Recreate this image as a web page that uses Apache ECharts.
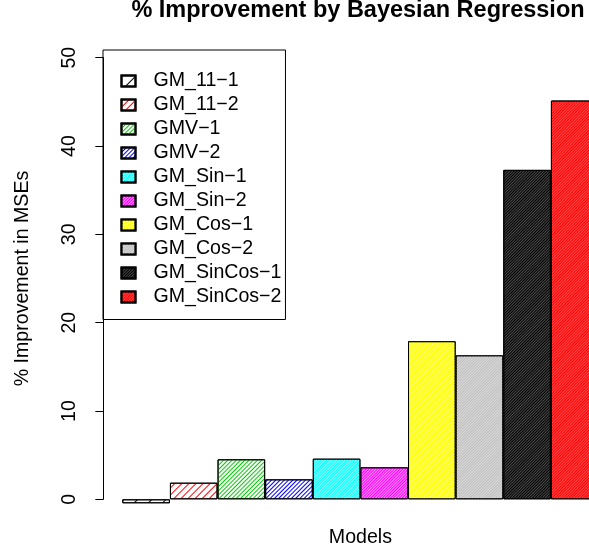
<!DOCTYPE html>
<html>
<head>
<meta charset="utf-8">
<script src="https://cdn.jsdelivr.net/npm/echarts@6/dist/echarts.min.js"></script>
<style>
html,body{margin:0;padding:0;background:#fff;}
#chart{width:589px;height:552px;}
</style>
</head>
<body>
<div id="chart"></div>
<script>
const titleText = '% Improvement by Bayesian Regression';
const yAxisTitle = '% Improvement in MSEs';
const xAxisTitle = 'Models';
const categories = ['GM_11−1','GM_11−2','GMV−1','GMV−2','GM_Sin−1','GM_Sin−2','GM_Cos−1','GM_Cos−2','GM_SinCos−1','GM_SinCos−2'];
const values = [-0.45, 1.88, 4.53, 2.26, 4.6, 3.62, 17.9, 16.3, 37.3, 45.15];
const yTicks = [0, 10, 20, 30, 40, 50];
const lineColors = ['#000000','#ff0000','#00cd00','#0000ff','#00ffff','#ff00ff','#ffff00','#bebebe','#000000','#ff0000'];
const fillColors = ['#ffffff','#ffffff','#ffffff','#ffffff','#8affff','#ff8aff','#ffff66','#dadada','#4a4a4a','#ff4a4a'];
const hatchGaps = [8.4, 3.7, 2, 1.4, 1, 1, 1, 1, 1, 1];

const FONT = 'Liberation Sans, Arial, Helvetica, sans-serif';
const chart = echarts.init(document.getElementById('chart'), null, {renderer: 'canvas'});

// bar i is centred at x = i; the visible plot spans -0.5 .. 9.3
// (the right end of the last bar is cut by the picture's edge, as in the reference)
const series = categories.map((name, i) => ({
  name: name,
  type: 'bar',
  barWidth: 47.6,
  barGap: '-100%',
  clip: false,
  animation: false,
  itemStyle: {
    color: fillColors[i],
    borderColor: '#000000',
    borderWidth: 1,
    decal: {
      symbol: 'rect',
      symbolSize: 1,
      color: lineColors[i],
      dashArrayX: [1, 0],
      dashArrayY: [1, hatchGaps[i]],
      rotation: -Math.PI / 4
    }
  },
  data: [[i, values[i]]]
}));

chart.setOption({
  animation: false,
  backgroundColor: '#ffffff',
  textStyle: {fontFamily: FONT, color: '#000'},
  title: {
    text: titleText,
    left: 358,
    top: -1,
    padding: 0,
    textAlign: 'center',
    textStyle: {fontFamily: FONT, fontWeight: 'bold', fontSize: 23.5, color: '#000'}
  },
  legend: {
    orient: 'vertical',
    left: 103,
    top: 50,
    padding: [21, 4, 12.5, 17.5],
    itemGap: 4,
    itemWidth: 14,
    itemHeight: 11,
    icon: 'rect',
    borderColor: '#000',
    borderWidth: 1,
    selectedMode: false,
    data: categories,
    textStyle: {fontFamily: FONT, fontSize: 19.6, color: '#000', lineHeight: 20, padding: [0, 0, 0, 13]}
  },
  grid: {left: 122.3, top: 57.7, right: 0, bottom: 52.7, containLabel: false},
  xAxis: {
    type: 'value',
    min: -0.5,
    max: 9.3,
    axisLine: {show: false},
    axisTick: {show: false},
    axisLabel: {show: false},
    splitLine: {show: false}
  },
  yAxis: {
    type: 'value',
    min: yTicks[0],
    max: yTicks[yTicks.length - 1],
    interval: 10,
    offset: 19,
    axisLine: {show: true, onZero: false, lineStyle: {color: '#000', width: 1}},
    axisTick: {show: true, length: 8, lineStyle: {color: '#000', width: 1}},
    axisLabel: {rotate: 90, margin: 24, fontFamily: FONT, fontSize: 19.6, color: '#000'},
    splitLine: {show: false},
    name: yAxisTitle,
    nameLocation: 'middle',
    nameRotate: 90,
    nameGap: 71,
    nameTextStyle: {fontFamily: FONT, fontSize: 19.6, color: '#000'}
  },
  series: series
});

// "Models" axis title, centred on the full plot region (bars span -0.5 .. 9.5)
const cx = chart.convertToPixel({xAxisIndex: 0}, 4.5);
chart.setOption({
  graphic: [{
    type: 'text',
    x: cx,
    y: 528,
    style: {text: xAxisTitle, fontFamily: FONT, fontSize: 19.6, fill: '#000', align: 'center', verticalAlign: 'top'}
  }]
});
</script>
</body>
</html>
